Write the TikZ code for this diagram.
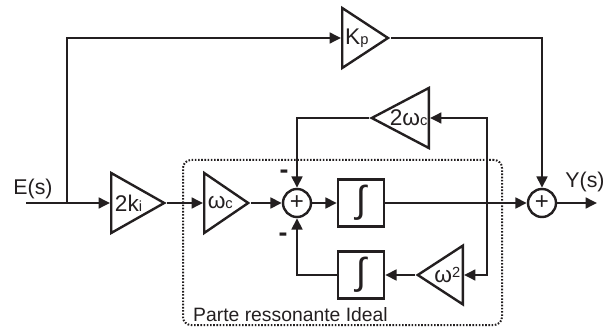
\documentclass[tikz,border=0pt]{standalone}
\usepackage{fontspec}
\setmainfont{Liberation Sans}
\usetikzlibrary{arrows.meta,positioning,shapes.geometric}
\definecolor{wire}{HTML}{231F20}
\newcommand{\lowsub}[1]{{\fontsize{11}{11}\selectfont #1}}

\begin{document}
\begin{tikzpicture}[x=0.75pt,y=-0.75pt,line width=1.8pt,color=wire,
  font=\fontsize{14.5}{17}\selectfont,
  >={Triangle[length=8.5pt,width=8pt]},
  gain/.style={isosceles triangle,isosceles triangle stretches,draw,
    inner sep=0pt,minimum width=45pt,font=\fontsize{17}{20}\selectfont},
  gainl/.style={gain,shape border rotate=180},
  intg/.style={draw,minimum width=34.5pt,minimum height=35pt,inner sep=0pt,
    font=\fontsize{28}{28}\selectfont},
  sumnode/.style={draw,circle,minimum size=21pt,inner sep=0pt,
    font=\fontsize{18}{18}\selectfont},
  sgn/.style={font=\fontsize{20}{20}\selectfont\bfseries,inner sep=0pt},
  io/.style={font=\fontsize{16}{19}\selectfont},
  frame/.style={draw,rounded corners=6pt,line width=1.5pt,
    dash pattern=on 1.2pt off 1.2pt,inner sep=0pt}]
\useasboundingbox (0,0) rectangle (603,331);

\coordinate (in) at (26,203);
\coordinate (split) at (67,203);
\node[gain,minimum height=39.75pt,anchor=lower side] (ki) at (110,203) {2k\lowsub{i}};
\node[gain,minimum height=32.25pt,anchor=lower side] (kp) at (341,38) {K\lowsub{p}};
\node[gain,minimum height=33pt,anchor=lower side] (wc) at (203,203) {ω\lowsub{c}};
\node[sumnode] (s1) at (297,203) {+};
\node[intg] (int1) at (361,203) {∫};
\node[intg] (int2) at (361,275) {∫};
\node[gainl,minimum height=39.75pt,anchor=lower side] (w2c) at (430,118) {2ω\lowsub{c}};
\node[gainl,minimum height=31.5pt,minimum width=44pt,anchor=lower side] (ww) at (464,275) {ω\lowsub{\raisebox{0.7ex}{2}}};
\node[sumnode] (s2) at (542,203) {+};
\coordinate (out) at (597,203);
\coordinate (tap) at (487,203);

\node[io] (E) at (33,189) {E(s)};
\node[io] (Y) at (585,182) {Y(s)};
\node[sgn] (m1) at (284,174) {-};
\node[sgn] (m2) at (283,237) {-};

\draw[->] (in) -- (ki.lower side);
\draw[->] (split) |- (kp.lower side);
\draw[->] (kp.apex) -| (s2.north);
\draw[->] (ki.apex) -- (wc.lower side);
\draw[->] (wc.apex) -- (s1.west);
\draw[->] (s1.east) -- (int1.west);
\draw[->] (int1.east) -- (s2.west);
\draw[->] (s2.east) -- (out);
\draw[->] (tap) |- (w2c.lower side);
\draw[->] (tap) |- (ww.lower side);
\draw[->] (w2c.apex) -| (s1.north);
\draw[->] (ww.apex) -- (int2.east);
\draw[->] (int2.west) -| (s1.south);

% parte ressonante
\node[frame,minimum width=239.25pt,minimum height=123.75pt] (res) at (342.5,242.5) {};
\node[anchor=west,inner sep=0pt] (reslbl) at (192,315) {Parte ressonante Ideal};
\end{tikzpicture}
\end{document}
